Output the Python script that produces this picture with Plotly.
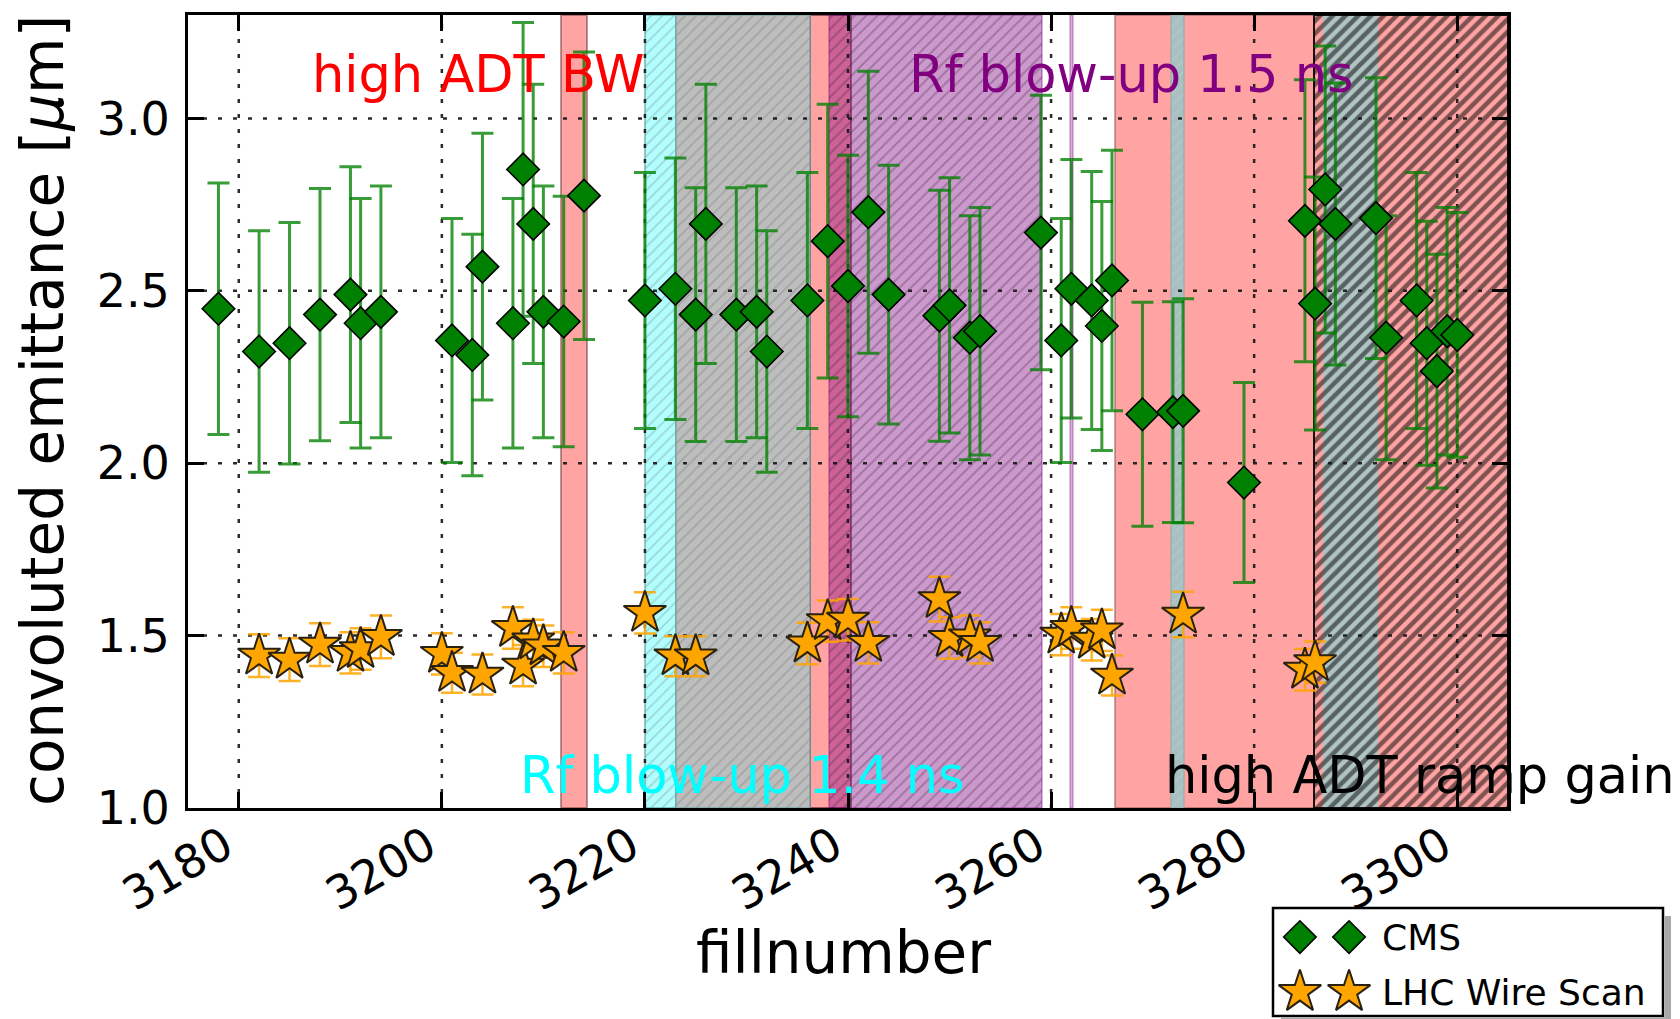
import plotly.graph_objects as go

# ---------------- data ----------------
# CMS emittance per fill (value and symmetric uncertainty)
cms_fill = [3178, 3182, 3185, 3188, 3191, 3192, 3194, 3201, 3203, 3204,
            3207, 3208, 3209, 3210, 3212, 3214, 3220, 3223, 3225, 3226,
            3229, 3231, 3232, 3236, 3238, 3240, 3242, 3244, 3249, 3250,
            3252, 3253, 3259, 3261, 3262, 3264, 3265, 3266, 3269, 3272,
            3273, 3279, 3285, 3286, 3287, 3288, 3292, 3293, 3296, 3297,
            3298, 3299, 3300]
cms_emit = [2.448, 2.324, 2.348, 2.431, 2.489, 2.406, 2.439, 2.356, 2.314, 2.570,
            2.406, 2.852, 2.694, 2.439, 2.411, 2.776, 2.472, 2.506, 2.431, 2.694,
            2.431, 2.439, 2.324, 2.472, 2.644, 2.514, 2.728, 2.489, 2.428, 2.458,
            2.364, 2.383, 2.669, 2.356, 2.506, 2.472, 2.398, 2.530, 2.142, 2.148,
            2.152, 1.944, 2.703, 2.463, 2.794, 2.694, 2.711, 2.364, 2.472, 2.348,
            2.267, 2.383, 2.372]
cms_err = [0.365, 0.350, 0.350, 0.366, 0.371, 0.362, 0.365, 0.354, 0.350, 0.387,
           0.362, 0.426, 0.405, 0.365, 0.363, 0.417, 0.371, 0.379, 0.368, 0.405,
           0.368, 0.365, 0.350, 0.371, 0.397, 0.379, 0.409, 0.375, 0.364, 0.370,
           0.354, 0.359, 0.398, 0.354, 0.375, 0.374, 0.361, 0.378, 0.325, 0.320,
           0.325, 0.290, 0.409, 0.367, 0.416, 0.409, 0.407, 0.354, 0.371, 0.354,
           0.339, 0.359, 0.355]

# LHC wire scanner emittance per fill
ws_fill = [3182, 3185, 3188, 3191, 3192, 3194, 3200, 3201, 3204, 3207,
           3208, 3209, 3210, 3212, 3220, 3223, 3225, 3236, 3238, 3240,
           3242, 3249, 3250, 3252, 3253, 3261, 3262, 3264, 3265, 3266,
           3273, 3285, 3286]
ws_emit = [1.442, 1.430, 1.474, 1.450, 1.461, 1.496, 1.447, 1.392, 1.387, 1.522,
           1.413, 1.486, 1.469, 1.450, 1.566, 1.440, 1.440, 1.477, 1.542, 1.546,
           1.479, 1.606, 1.493, 1.498, 1.479, 1.503, 1.522, 1.488, 1.515, 1.384,
           1.561, 1.401, 1.423]
ws_err = [0.062, 0.062, 0.062, 0.060, 0.060, 0.062, 0.060, 0.058, 0.058, 0.060,
          0.060, 0.060, 0.060, 0.060, 0.060, 0.058, 0.058, 0.060, 0.060, 0.060,
          0.060, 0.065, 0.060, 0.060, 0.060, 0.060, 0.060, 0.060, 0.060, 0.058,
          0.066, 0.060, 0.060]

# machine-setting periods (fill ranges)
period_key = ["adt_bw_1", "adt_bw_2", "adt_bw_3", "rf14", "rf14_grey",
              "rf15", "rf15_line", "teal_1", "teal_2", "ramp_gain"]
period_start = [3211.75, 3236.25, 3266.3, 3220.0, 3223.1,
                3238.1, 3261.85, 3271.8, 3286.8, 3285.9]
period_end = [3214.3, 3240.3, 3305.0, 3223.1, 3236.25,
              3259.1, 3262.15, 3273.1, 3292.2, 3305.0]

period_labels = ["high ADT BW", "Rf blow-up 1.4 ns", "Rf blow-up 1.5 ns", "high ADT ramp gain"]
label_fill = [3203.6, 3229.6, 3267.9, 3296.3]
label_emit = [3.126, 1.094, 3.126, 1.094]

x_range = [3175, 3305]
y_range = [1.0, 3.3]
x_ticks = [3180, 3200, 3220, 3240, 3260, 3280, 3300]
y_ticks = [1.0, 1.5, 2.0, 2.5, 3.0]

# ---------------- styles ----------------
PINK = "rgba(255,0,0,0.36)"
band_style = {
    "adt_bw_1": dict(color=PINK, line="rgba(120,70,70,0.55)", shape="", fg=None),
    "adt_bw_2": dict(color=PINK, line="rgba(60,20,40,0.55)", shape="", fg=None),
    "adt_bw_3": dict(color=PINK, line="rgba(120,70,70,0.45)", shape="", fg=None),
    "rf14": dict(color="#B2FDFD", line="rgba(90,160,160,0.6)", shape="/", fg="rgba(110,140,140,0.7)"),
    "rf14_grey": dict(color="#BDBDBD", line="rgba(110,160,160,0.6)", shape="/", fg="rgba(110,120,120,0.7)"),
    "rf15": dict(color="rgba(128,0,128,0.40)", line="rgba(128,0,128,0.3)", shape="/", fg="rgba(60,30,60,0.6)"),
    "rf15_line": dict(color="rgba(128,0,128,0.30)", line="rgba(128,0,128,0.25)", shape="", fg=None),
    "teal_1": dict(color="#A9C0C0", line="rgba(140,170,170,0.5)", shape="/", fg="rgba(200,215,215,0.6)"),
    "teal_2": dict(color="#B0C4C4", line="rgba(140,170,170,0.0)", shape="", fg=None),
    "ramp_gain": dict(color="rgba(0,0,0,0)", line="rgba(0,0,0,0.9)", shape="/", fg="#000000"),
}
pattern_size = {"rf14": 8, "rf14_grey": 8, "rf15": 8, "teal_1": 8, "ramp_gain": 9}
pattern_solid = {"rf14": 0.22, "rf14_grey": 0.22, "rf15": 0.25, "teal_1": 0.18, "ramp_gain": 0.5}
label_colors = ["#FF0000", "#00FFFF", "#800080", "#000000"]

FONT = "DejaVu Sans"
W, H = 1680, 1019
ML, MR, MT, MB = 188, 0, 15, 0
PW, PH = W - ML - MR, H - MT - MB
plot_left, plot_right, plot_top, plot_bottom = 188, 1508, 15, 808


def px_x(px):
    return (px - ML) / PW


def px_y(py):
    return (H - MB - py) / PH


fig = go.Figure()

# shaded periods drawn as full-height bars
for key, x0, x1 in zip(period_key, period_start, period_end):
    st = band_style[key]
    marker = dict(color=st["color"], line=dict(color=st["line"], width=2))
    if st["shape"]:
        marker["pattern"] = dict(shape=st["shape"], fgcolor=st["fg"], bgcolor=st["color"],
                                 size=pattern_size[key], solidity=pattern_solid[key])
    fig.add_trace(go.Bar(
        x=[(x0 + x1) / 2], width=[x1 - x0], base=[y_range[0]], y=[y_range[1] - y_range[0]],
        marker=marker, showlegend=False, hoverinfo="skip", xaxis="x", yaxis="y"))

# dotted grid on top of the shaded periods
gx, gy = [], []
for t in x_ticks:
    gx += [t, t, None]
    gy += [y_range[0], y_range[1], None]
for t in y_ticks[1:]:
    gx += [x_range[0], x_range[1], None]
    gy += [t, t, None]
fig.add_trace(go.Scatter(x=gx, y=gy, mode="lines",
                         line=dict(color="rgba(20,20,20,0.9)", width=2.5, dash="4px,11px"),
                         showlegend=False, hoverinfo="skip"))

CMS_MARKER = dict(symbol="diamond", size=25, color="#008000", line=dict(color="#000000", width=1.6))
WS_MARKER = dict(symbol="star", size=32, color="#FFA500", line=dict(color="#2a2210", width=2))

# CMS
fig.add_trace(go.Scatter(
    x=cms_fill, y=cms_emit, mode="markers", name="CMS", marker=CMS_MARKER,
    error_y=dict(type="data", array=cms_err, symmetric=True, color="rgba(0,128,0,0.78)",
                 thickness=3, width=11),
    showlegend=False))

# LHC wire scan
fig.add_trace(go.Scatter(
    x=ws_fill, y=ws_emit, mode="markers", name="LHC Wire Scan", marker=WS_MARKER,
    error_y=dict(type="data", array=ws_err, symmetric=True, color="rgba(255,165,0,0.85)",
                 thickness=2.5, width=11),
    showlegend=False))

# legend entries (two sample markers per entry)
leg_x0, leg_x1, leg_y0, leg_y1 = 1273, 1663, 908, 1016
leg_mx = [0.069, 0.195]
leg_rows = [0.731, 0.222]
fig.add_trace(go.Scatter(
    x=leg_mx, y=[leg_rows[0]] * 2, mode="markers", xaxis="x2", yaxis="y2",
    marker=CMS_MARKER, showlegend=False, hoverinfo="skip"))
fig.add_trace(go.Scatter(
    x=leg_mx, y=[leg_rows[1]] * 2, mode="markers", xaxis="x2", yaxis="y2",
    marker=WS_MARKER, showlegend=False, hoverinfo="skip"))

SHADOW = 8
shapes = [
    # legend frame
    dict(type="rect", xref="paper", yref="paper",
         x0=px_x(leg_x0), x1=px_x(leg_x1), y0=px_y(leg_y1), y1=px_y(leg_y0),
         fillcolor="white", line=dict(color="black", width=2.5), layer="below"),
    # legend drop shadow (right and bottom strips)
    dict(type="rect", xref="paper", yref="paper",
         x0=px_x(leg_x1 + 1.5), x1=px_x(leg_x1 + SHADOW), y0=px_y(leg_y1 + SHADOW), y1=px_y(leg_y0 + SHADOW),
         fillcolor="#a8a8a8", line=dict(width=0), layer="above"),
    dict(type="rect", xref="paper", yref="paper",
         x0=px_x(leg_x0 + SHADOW), x1=px_x(leg_x1 + SHADOW), y0=px_y(leg_y1 + SHADOW), y1=px_y(leg_y1 + 1.5),
         fillcolor="#a8a8a8", line=dict(width=0), layer="above"),
]

annotations = []
for txt, xf, ye, col in zip(period_labels, label_fill, label_emit, label_colors):
    annotations.append(dict(x=xf, y=ye, xref="x", yref="y", text=txt, showarrow=False,
                            xanchor="center", yanchor="middle",
                            font=dict(family=FONT, size=51, color=col)))
annotations += [
    dict(x=px_x(43), y=px_y(411), xref="paper", yref="paper",
         text="convoluted emittance [<i>μ</i>m]", textangle=-90, showarrow=False,
         xanchor="center", yanchor="middle", font=dict(family=FONT, size=58, color="black")),
    dict(x=px_x(843), y=px_y(953), xref="paper", yref="paper", text="fillnumber",
         showarrow=False, xanchor="center", yanchor="middle",
         font=dict(family=FONT, size=58, color="black")),
    dict(x=0.275, y=leg_rows[0], xref="x2", yref="y2", text="CMS", showarrow=False,
         xanchor="left", yanchor="middle", font=dict(family=FONT, size=36, color="black")),
    dict(x=0.275, y=leg_rows[1], xref="x2", yref="y2", text="LHC Wire Scan", showarrow=False,
         xanchor="left", yanchor="middle", font=dict(family=FONT, size=36, color="black")),
]

axis_common = dict(showgrid=False, zeroline=False, showline=True, linecolor="black", linewidth=3,
                   mirror="ticks", ticks="inside", ticklen=16, tickwidth=2.5, tickcolor="black",
                   layer="above traces")

fig.update_layout(
    width=W, height=H, margin=dict(l=ML, r=MR, t=MT, b=MB, autoexpand=False),
    paper_bgcolor="white", plot_bgcolor="rgba(0,0,0,0)", barmode="overlay", bargap=0,
    showlegend=False,
    xaxis=dict(range=x_range, tickvals=x_ticks, ticktext=[str(t) for t in x_ticks], tickangle=-30,
               domain=[0, px_x(plot_right)], anchor="y", ticklabelstandoff=-10, ticklabelshift=-14,
               tickfont=dict(family=FONT, size=46, color="black"), **axis_common),
    yaxis=dict(range=y_range, tickvals=y_ticks, ticktext=[f"{t:.1f}" for t in y_ticks],
               domain=[px_y(plot_bottom), 1], anchor="x", ticklabelstandoff=6,
               tickfont=dict(family=FONT, size=46, color="black"), **axis_common),
    xaxis2=dict(domain=[px_x(leg_x0), px_x(leg_x1)], range=[0, 1], visible=False,
                anchor="y2", fixedrange=True),
    yaxis2=dict(domain=[px_y(leg_y1), px_y(leg_y0)], range=[0, 1], visible=False,
                anchor="x2", fixedrange=True),
    shapes=shapes, annotations=annotations,
)

fig.write_html("out.html")
